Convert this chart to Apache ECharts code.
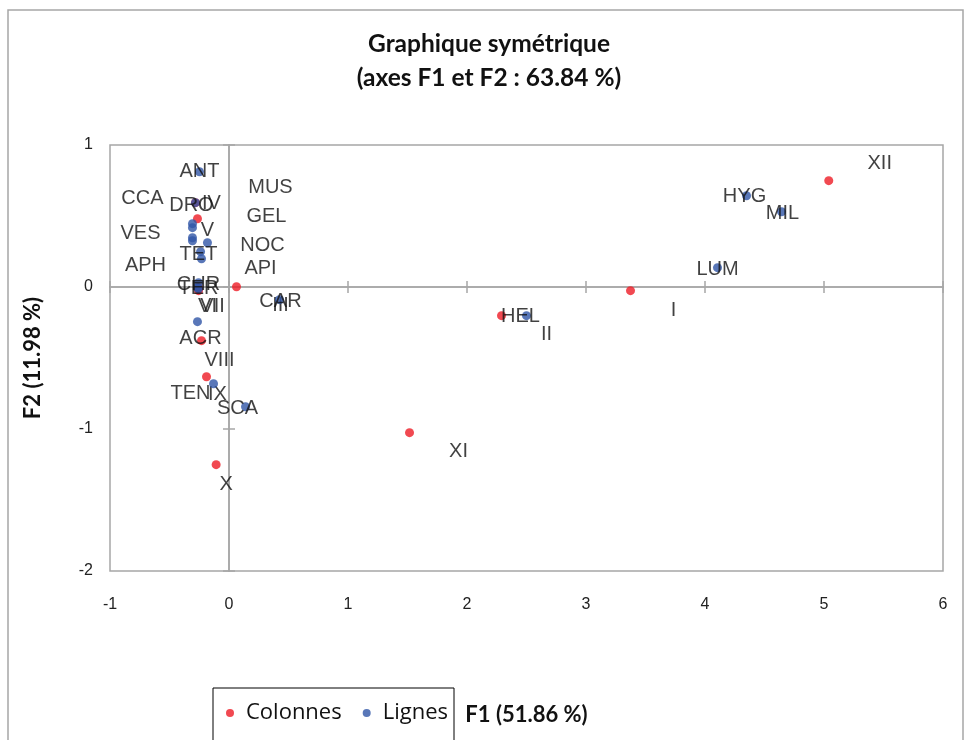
<!DOCTYPE html>
<html>
<head>
<meta charset="utf-8">
<script src="https://cdn.jsdelivr.net/npm/echarts@6/dist/echarts.min.js"></script>
<style>
  html, body { margin: 0; padding: 0; background: #fff; }
  #chart { width: 965px; height: 740px; }
</style>
</head>
<body>
<div id="chart"></div>
<script>
// Colonnes (months)
const colNames = ['I', 'II', 'III', 'IV', 'V', 'VI', 'VII', 'VIII', 'IX', 'X', 'XI', 'XII'];
const colF1 = [3.374, 2.29, 0.063, -0.282, -0.265, -0.256, -0.256, -0.231, -0.189, -0.108, 1.517, 5.04];
const colF2 = [-0.026, -0.202, 0.002, 0.594, 0.481, -0.005, -0.026, -0.378, -0.632, -1.251, -1.026, 0.749];

// Lignes
const rowNames = ['ANT', 'DRO', 'CCA', 'VES', 'APH', 'MUS', 'GEL', 'NOC', 'TET', 'API',
  'CHR', 'TER', 'ACR', 'TEN', 'SCA', 'CAR', 'HEL', 'HYG', 'MIL', 'LUM'];
const rowF1 = [-0.248, -0.282, -0.307, -0.307, -0.307, -0.307, -0.181, -0.239, -0.231, -0.256,
  -0.265, -0.256, -0.265, -0.130, 0.139, 0.424, 2.50, 4.349, 4.643, 4.105];
const rowF2 = [0.812, 0.594, 0.446, 0.418, 0.347, 0.326, 0.312, 0.249, 0.199, 0.030,
  -0.005, -0.012, -0.244, -0.681, -0.843, -0.089, -0.202, 0.643, 0.530, 0.136];

// label placement (pixels, relative to the point)
const colLabelOffset = [[43, 20], [45, 19], [44, 19], [16, 1], [10, 12], [9, 19], [14, 16],
  [18, 20], [11, 18], [10, 20], [49, 19], [51, -17]];
const rowLabelOffset = [[0, 0], [-4, 3], [-50, -25], [-52, 6], [-47, 28], [78, -53], [59, -26],
  [62, -6], [-3, -4], [62, -14], [1, -3], [0, 0], [3, 17], [-23, 10], [-8, 2], [1, 2],
  [-6, 1], [-2, 1], [1, 2], [0, 2]];

const xMin = -1, xMax = 6, yMin = -2, yMax = 1;
const gray = '#a6a6a6';
const labelFont = { fontFamily: 'Liberation Sans', fontSize: 20, color: '#111' };

function points(names, f1, f2, offsets) {
  return names.map((n, i) => ({
    name: n,
    value: [f1[i], f2[i]],
    label: { offset: offsets[i] }
  }));
}

const chart = echarts.init(document.getElementById('chart'));

const valueAxis = (extra) => Object.assign({
  type: 'value',
  splitLine: { show: false },
  axisLabel: { show: false },
  axisTick: { show: false },
  axisLine: { show: false }
}, extra);

const zeroLine = { show: true, onZero: true, lineStyle: { color: gray, width: 1.5 } };
const tick = (inside) => ({ show: true, inside: inside, length: 6, lineStyle: { color: gray, width: 1.5 } });

chart.setOption({
  animation: false,
  title: {
    text: 'Graphique symétrique\n(axes F1 et F2 : 63.84 %)',
    left: 484,
    textAlign: 'center',
    top: 22,
    textStyle: { fontFamily: 'Lato', fontWeight: 'bold', fontSize: 24.5, lineHeight: 34, color: '#111' }
  },
  legend: {
    left: 213,
    top: 688,
    data: ['Colonnes', 'Lignes'],
    icon: 'circle',
    itemWidth: 22,
    itemHeight: 8,
    itemGap: 21,
    borderColor: '#000',
    borderWidth: 1,
    padding: [14, 6, 30, 13],
    textStyle: { fontFamily: 'Open Sans', fontSize: 22, color: '#111' }
  },
  grid: {
    left: 110, right: 22, top: 145, bottom: 169,
    show: true, borderColor: gray, borderWidth: 1.5, backgroundColor: '#fff'
  },
  graphic: [{
    type: 'rect',
    shape: { x: 8, y: 10, width: 955, height: 780 },
    style: { fill: 'none', stroke: gray, lineWidth: 1.5 },
    silent: true,
    z: -10
  }],
  xAxis: [
    valueAxis({
      min: xMin, max: xMax, interval: 1, position: 'bottom',
      axisLine: { show: false, onZero: false },
      axisLabel: { show: true, margin: 26, fontFamily: 'Liberation Sans', fontSize: 16, color: '#222' },
      name: 'F1 (51.86 %)',
      nameLocation: 'middle',
      nameGap: 133,
      nameTextStyle: { fontFamily: 'Lato', fontWeight: 'bold', fontSize: 22, color: '#111' }
    }),
    valueAxis({ min: xMin, max: xMax, interval: 1, axisLine: zeroLine, axisTick: tick(false) }),
    valueAxis({ min: xMin, max: xMax, interval: 1, axisLine: zeroLine, axisTick: tick(true) })
  ],
  yAxis: [
    valueAxis({
      min: yMin, max: yMax, interval: 1, position: 'left',
      axisLine: { show: false, onZero: false },
      axisLabel: { show: true, margin: 17, fontFamily: 'Liberation Sans', fontSize: 16, color: '#222' },
      name: 'F2 (11.98 %)',
      nameLocation: 'middle',
      nameGap: 66,
      nameTextStyle: { fontFamily: 'Lato', fontWeight: 'bold', fontSize: 22, color: '#111' }
    }),
    valueAxis({ min: yMin, max: yMax, interval: 1, axisLine: zeroLine, axisTick: tick(false) }),
    valueAxis({ min: yMin, max: yMax, interval: 1, axisLine: zeroLine, axisTick: tick(true) })
  ],
  series: [
    {
      name: 'Colonnes',
      type: 'scatter',
      symbolSize: 9,
      itemStyle: { color: '#ee1c25' },
      label: Object.assign({ show: true, position: 'inside', formatter: '{b}' }, labelFont),
      data: points(colNames, colF1, colF2, colLabelOffset),
      z: 3
    },
    {
      name: 'Lignes',
      type: 'scatter',
      symbolSize: 9,
      itemStyle: { color: '#2f55a6' },
      label: Object.assign({ show: true, position: 'inside', formatter: '{b}' }, labelFont),
      data: points(rowNames, rowF1, rowF2, rowLabelOffset),
      z: 4
    }
  ]
});
</script>
</body>
</html>
